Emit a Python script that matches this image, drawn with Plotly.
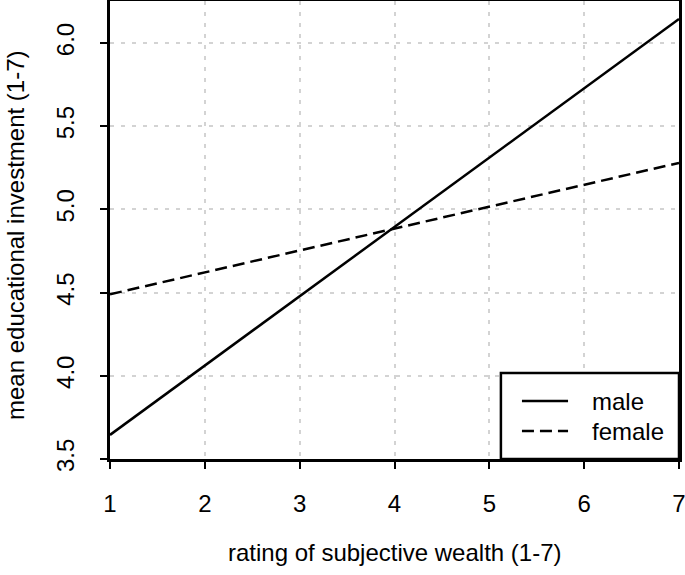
import plotly.graph_objects as go

# values
wealth = [1, 7]
male = [3.645, 6.145]
female = [4.49, 5.28]
x_ticks = [1, 2, 3, 4, 5, 6, 7]
y_ticks = [3.5, 4.0, 4.5, 5.0, 5.5, 6.0]

FONT = "Liberation Sans, Arial, sans-serif"
SIZE = 24

fig = go.Figure()
fig.add_trace(go.Scatter(x=wealth, y=male, mode="lines", name="male",
                         line=dict(color="black", width=2.5)))
fig.add_trace(go.Scatter(x=wealth, y=female, mode="lines", name="female",
                         line=dict(color="black", width=2.5, dash="12px,6px")))

axis_common = dict(
    showline=True, mirror=True, linecolor="black", linewidth=2.5,
    ticks="outside", ticklen=7, tickwidth=1.5, tickcolor="black",
    showgrid=True, gridcolor="#d3d3d3", gridwidth=2, griddash="4px,7px",
    zeroline=False, tickfont=dict(size=SIZE, color="black"),
    automargin=False, ticklabeloverflow="allow",
)

fig.update_xaxes(range=[1, 7], tickvals=x_ticks, ticklabelstandoff=14, **axis_common)
fig.update_yaxes(range=[3.5, 6.253], tickvals=y_ticks, tickformat=".1f",
                 tickangle=-90, ticklabelstandoff=17, **axis_common)

# legend box drawn by hand, like R's legend()
shapes = [
    dict(type="rect", xref="paper", yref="paper", x0=0.687, x1=1, y0=0, y1=0.188,
         line=dict(color="black", width=2.5), fillcolor="white", layer="above"),
    dict(type="line", xref="paper", yref="paper", x0=0.724, x1=0.805, y0=0.1266, y1=0.1266,
         line=dict(color="black", width=2.5)),
    dict(type="line", xref="paper", yref="paper", x0=0.724, x1=0.805, y0=0.0611, y1=0.0611,
         line=dict(color="black", width=2.5, dash="12px,6px")),
]
annotations = [
    dict(text="male", xref="paper", yref="paper", x=0.8436, y=0.1266,
         xanchor="left", yanchor="middle", showarrow=False, font=dict(size=SIZE)),
    dict(text="female", xref="paper", yref="paper", x=0.8436, y=0.0611,
         xanchor="left", yanchor="middle", showarrow=False, font=dict(size=SIZE)),
    dict(text="rating of subjective wealth (1-7)", xref="paper", yref="paper",
         x=0.5, y=-0.2052, xanchor="center", yanchor="middle", showarrow=False,
         font=dict(size=SIZE)),
    dict(text="mean educational investment (1-7)", xref="paper", yref="paper",
         x=-0.167, y=0.489, xanchor="center", yanchor="middle", textangle=-90,
         showarrow=False, font=dict(size=SIZE)),
]

fig.update_layout(
    width=685, height=575,
    margin=dict(l=110, r=6, t=1, b=116),
    plot_bgcolor="white", paper_bgcolor="white",
    font=dict(family=FONT, color="black", size=SIZE),
    showlegend=False,
    shapes=shapes, annotations=annotations,
)

# drop the browser's default 8px body margin so the figure sits at the corner
fig.write_html("out.html", config={"displayModeBar": False},
               post_script="document.body.style.margin='0';")
